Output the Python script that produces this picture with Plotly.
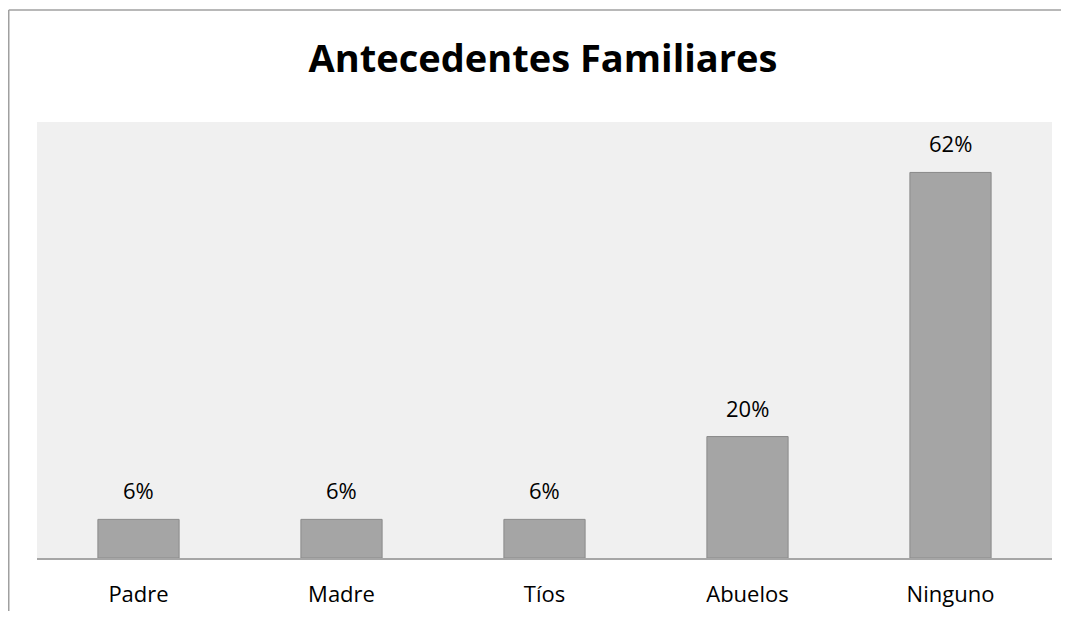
import plotly.graph_objects as go

categories = ["Padre", "Madre", "Tíos", "Abuelos", "Ninguno"]
values = [6.2, 6.2, 6.2, 19.5, 61.9]
labels = ["6%", "6%", "6%", "20%", "62%"]

FONT = "Open Sans"

fig = go.Figure()
fig.add_trace(go.Bar(
    x=categories, y=values,
    marker=dict(color="#a5a5a5", line=dict(color="#8a8a8a", width=1)),
    hoverinfo="skip",
))

for c, v, t in zip(categories, values, labels):
    fig.add_annotation(x=c, y=v, text=t, showarrow=False, yanchor="bottom",
                       yshift=12, font=dict(family=FONT, size=22, color="#000000"))

# page is offset by the 8px body margin
W, H = 1061, 603
l, r, t, b = 29, 17, 114, 53
pw, ph = W - l - r, H - t - b

def px(xp):
    return (xp - l) / pw

def py(yp):
    return (H - b - yp) / ph

frame = dict(color="#a0a0a0", width=1.5)
fig.add_shape(type="line", xref="paper", yref="paper",
              x0=px(0.75), x1=px(W + 40), y0=py(2), y1=py(2), line=frame, layer="below")
fig.add_shape(type="line", xref="paper", yref="paper",
              x0=px(0.75), x1=px(0.75), y0=py(2), y1=py(H + 40), line=frame, layer="below")

fig.update_layout(
    width=W, height=H,
    margin=dict(l=l, r=r, t=t, b=b, pad=0, autoexpand=False),
    paper_bgcolor="white", plot_bgcolor="#f0f0f0",
    bargap=0.6,
    showlegend=False,
    title=dict(text="<b>Antecedentes Familiares</b>", x=(543 - 8) / W, xanchor="center",
               y=1 - 51 / H, yanchor="middle",
               font=dict(family=FONT, size=38, color="#000000")),
    xaxis=dict(showline=True, linecolor="#a6a6a6", linewidth=1.5, automargin=False,
               ticks="outside", ticklen=16, tickcolor="rgba(0,0,0,0)",
               tickfont=dict(family=FONT, size=22, color="#000000"),
               showgrid=False, zeroline=False, fixedrange=True),
    yaxis=dict(range=[0, 70], visible=False, showgrid=False, zeroline=False,
               fixedrange=True, automargin=False),
)

fig.write_html("out.html")
